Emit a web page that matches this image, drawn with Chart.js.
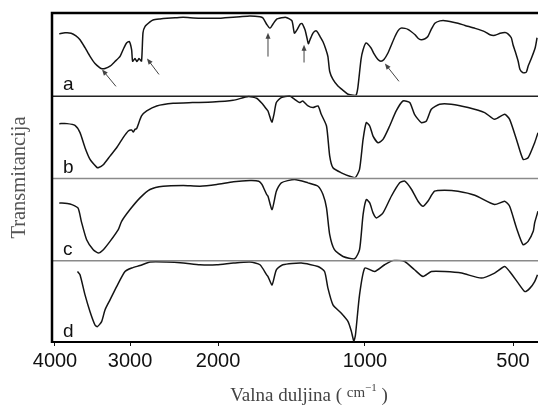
<!DOCTYPE html>
<html><head><meta charset="utf-8">
<script src="https://cdn.jsdelivr.net/npm/chart.js@4/dist/chart.umd.min.js"></script>
<style>html,body{margin:0;padding:0;background:#fff;}canvas{display:block;}</style>
</head><body>
<canvas id="c" width="538" height="408"></canvas>
<script>
// ---- data (wavenumber in cm^-1, transmittance in % of each panel) ----
const waveTicks = [4000, 3000, 2000, 1000, 500];
const panelLabels = ['a', 'b', 'c', 'd'];

const waveA = [3935,3849,3760,3691,3634,3565,3497,3431,3366,3340,3302,3239,3178,3117,3070,3040,3008,2978,2964,2932,2905,2878,2845,2826,2800,2736,2698,2613,2530,2438,2350,2275,2173,2094,2009,1935,1863,1803,1720,1641,1618,1587,1565,1543,1514,1465,1445,1411,1395,1378,1359,1346,1327,1315,1306,1296,1278,1260,1248,1236,1219,1202,1191,1181,1163,1136,1109,1083,1058,1043,1034,1019,1009,995,972,959,941,928,915,898,885,869,857,845,829,818,806,791,780,769,755,745,734,721,704,688,672,647,626,597,570,557,544,531,519,512,504,500,495,488,484,477,470,466,460,451,447];
const transA = [74.7,75.9,75.5,72.3,67.5,57.8,47.3,38.6,33.4,32.2,32.5,35.3,41,47.3,57.8,63.5,65.4,55.4,41.3,44.6,41,44.6,41.6,75.9,83.5,89.2,91.6,92.8,93.6,94.2,94.8,94.2,93.6,93.6,93.6,94.2,94.8,95.5,96.4,95.5,94,85.5,81.6,86.7,92.8,94.6,94.3,90.4,75.5,79.5,86.1,87.3,79.5,69.9,62.7,67.5,75.5,78.3,75.9,71.4,65,55.4,47,28.9,19.3,11.2,6,1.2,0,0,9.6,43.4,55.4,63.5,57.5,50.6,43.4,41.3,43.4,51.4,60.2,71.4,78.3,81.6,81.3,80.1,77.5,73.5,69.3,67.5,68.7,71.4,79.5,87.6,90.4,90.7,89.8,87.6,84.9,81.3,77.1,73.5,72.9,75.3,76.3,74.7,69.9,61.4,53.4,41,31.3,27.3,28.1,35.3,43.4,57.5,69.9];

const waveB = [3935,3820,3705,3634,3565,3497,3410,3390,3320,3239,3158,3080,3020,2977,2955,2932,2910,2845,2778,2653,2460,2250,2050,1863,1732,1667,1626,1590,1580,1558,1550,1536,1519,1484,1427,1394,1362,1341,1308,1278,1248,1229,1199,1181,1163,1118,1067,1046,1026,1009,994,978,963,941,919,891,864,837,811,793,768,750,733,705,668,617,571,545,520,508,492,477,466,452,445];
const transB = [65.5,65.5,63.4,54.5,36.2,22,12.6,11.8,15.9,26,36.2,48.4,56.5,57.7,55.2,58.5,59.4,74.8,80.9,87,90.2,91.1,91.8,93.9,98.4,96.3,90.2,82.9,80.9,69.5,67.4,76.8,91.1,97.2,99.1,95.1,91.1,93,87,85,87,76.8,62.6,26,11.8,5.7,0.9,0,9.8,46.3,66.7,62.6,50.4,42.3,46.3,62.6,80.9,93,91.1,76.8,66.7,68.7,82.9,89,89,85,78.9,70.7,76.8,70.7,46.3,22,24,42.3,54.5];

const waveC = [3935,3776,3663,3616,3543,3454,3388,3323,3239,3138,3098,3000,2865,2736,2575,2347,2173,2012,1860,1720,1650,1626,1590,1580,1550,1519,1484,1394,1308,1248,1219,1199,1181,1155,1109,1050,1026,1009,994,978,963,948,919,884,850,830,804,780,762,745,722,689,647,598,545,520,508,492,477,466,455,452,445];
const transC = [69.1,67.9,63,46.7,24.4,12.2,8.2,12.2,22.3,36.6,46.7,61,75.2,85.4,89.4,90.2,89.4,91.5,94.8,96.3,95.5,91.5,79.3,77.2,61,83.3,93.5,97.6,93.5,89.4,79.3,63,30.5,12.2,4,1.2,12.2,54.9,73.2,69.1,57,50.9,57,77.2,93.5,95.5,85.4,71.1,65,71.1,83.3,84.5,83.3,78.4,67.1,71.1,65,38.7,18.3,22.3,34.5,44.8,58.9];

const waveD = [3670,3634,3565,3497,3431,3400,3345,3302,3239,3158,3058,2977,2865,2736,2535,2347,2173,2012,1860,1720,1641,1590,1580,1550,1519,1473,1350,1248,1210,1191,1163,1118,1083,1066,1054,1046,1026,1001,956,912,870,830,793,762,733,689,636,580,545,520,508,488,473,462,452,446];
const transD = [85.7,81.7,57.3,36.9,20.7,18.7,24.8,39,51.2,67.4,85.7,89.9,93,97.2,97.2,96,93.9,93.9,96,97.2,93.9,81.7,79.6,69.5,87.8,93.9,96,91.8,85.7,65.5,45.1,35,24.8,12.6,1.2,8.5,57.3,89.9,85.7,93.9,100,97.9,87.8,79.6,85.7,85.7,83.8,77.7,83.8,91.8,85.7,71.6,61.3,65.5,73.5,81.7];

// arrows in panel a (data coordinates: [wavenumber, transmittance])
const arrowTail = [[3166,10.8],[2625,25.3],[1580,47],[1333,39.8],[853,16.9]];
const arrowHead = [[3340,31.3],[2774,44.6],[1580,75.9],[1333,61.4],[911,38.6]];

// ---- wavenumber axis: piecewise logarithmic, as in the original instrument chart ----
const axisKnotWave = [4046, 4000, 3000, 2000, 1000, 500, 445];
const axisKnotFrac = [0, 0.00617, 0.1605, 0.3416, 0.6440, 0.9486, 1];
function waveToFrac(w) {
  const n = axisKnotWave.length;
  let i = 0;
  while (i < n - 2 && w < axisKnotWave[i + 1]) i++;
  const la = Math.log(axisKnotWave[i]), lb = Math.log(axisKnotWave[i + 1]);
  const t = (Math.log(w) - la) / (lb - la);
  return axisKnotFrac[i] + t * (axisKnotFrac[i + 1] - axisKnotFrac[i]);
}
function fracToWave(f) {
  const n = axisKnotFrac.length;
  let i = 0;
  while (i < n - 2 && f > axisKnotFrac[i + 1]) i++;
  const t = (f - axisKnotFrac[i]) / (axisKnotFrac[i + 1] - axisKnotFrac[i]);
  const la = Math.log(axisKnotWave[i]), lb = Math.log(axisKnotWave[i + 1]);
  return Math.exp(la + t * (lb - la));
}
class WavenumberScale extends Chart.LinearScale {
  getPixelForValue(v) {
    if (v === null || v === undefined || isNaN(v)) return NaN;
    return this.getPixelForDecimal(waveToFrac(v));
  }
  getValueForPixel(p) { return fracToWave(this.getDecimalForPixel(p)); }
}
WavenumberScale.id = 'wavenumber';
WavenumberScale.defaults = {};
Chart.register(WavenumberScale);

function pts(w, t) { return w.map((x, i) => ({x: x, y: t[i]})); }

const lineStyle = {borderColor: '#141414', borderWidth: 1.5, pointRadius: 0, tension: 0.2, fill: false};

const decor = {
  id: 'decor',
  afterDatasetsDraw(chart) {
    const ctx = chart.ctx, ca = chart.chartArea, xs = chart.scales.x;
    const ys = ['ya', 'yb', 'yc', 'yd'].map(id => chart.scales[id]);
    ctx.save();
    // separators between panels
    ys.slice(0, 3).forEach((s, i) => {
      ctx.strokeStyle = i === 0 ? '#222' : '#8a8a8a';
      ctx.lineWidth = 1.5;
      ctx.beginPath(); ctx.moveTo(ca.left, s.bottom + 1); ctx.lineTo(ca.right, s.bottom + 1); ctx.stroke();
    });
    // frame: left and top
    ctx.strokeStyle = '#000'; ctx.lineWidth = 2.5;
    ctx.beginPath(); ctx.moveTo(ca.left, ca.bottom + 1); ctx.lineTo(ca.left, ca.top); ctx.lineTo(ca.right, ca.top); ctx.stroke();
    // panel letters
    ctx.fillStyle = '#111'; ctx.font = '19px "Liberation Sans"';
    ctx.textAlign = 'left'; ctx.textBaseline = 'alphabetic';
    ys.forEach((s, i) => ctx.fillText(panelLabels[i], ca.left + 11, s.bottom - 5));
    // arrows
    ctx.strokeStyle = '#444'; ctx.fillStyle = '#444'; ctx.lineWidth = 1;
    const ya = chart.scales.ya;
    arrowTail.forEach((tl, i) => {
      const hd = arrowHead[i];
      const x1 = xs.getPixelForValue(tl[0]), y1 = ya.getPixelForValue(tl[1]);
      const x2 = xs.getPixelForValue(hd[0]), y2 = ya.getPixelForValue(hd[1]);
      const a = Math.atan2(y2 - y1, x2 - x1), c = Math.cos(a), s = Math.sin(a);
      ctx.beginPath(); ctx.moveTo(x1, y1); ctx.lineTo(x2 - 5 * c, y2 - 5 * s); ctx.stroke();
      ctx.beginPath();
      ctx.moveTo(x2, y2);
      ctx.lineTo(x2 - 6 * c + 2.5 * s, y2 - 6 * s - 2.5 * c);
      ctx.lineTo(x2 - 6 * c - 2.5 * s, y2 - 6 * s + 2.5 * c);
      ctx.closePath(); ctx.fill();
    });
    ctx.restore();
  },
  afterDraw(chart) {
    const ctx = chart.ctx, ca = chart.chartArea;
    ctx.save();
    // y title
    ctx.save();
    ctx.translate(20, (ca.top + ca.bottom) / 2);
    ctx.rotate(-Math.PI / 2);
    ctx.font = '20.5px "Liberation Serif"'; ctx.fillStyle = '#555';
    ctx.textAlign = 'center'; ctx.textBaseline = 'middle';
    ctx.fillText('Transmitancija', 0, 0);
    ctx.restore();
    // x title with raised unit
    const parts = [
      {t: 'Valna duljina ( ', size: 19, rise: 0},
      {t: 'cm', size: 15, rise: 4},
      {t: '−1', size: 11, rise: 10},
      {t: ' )', size: 19, rise: 0}
    ];
    ctx.fillStyle = '#444'; ctx.textAlign = 'left'; ctx.textBaseline = 'alphabetic';
    let total = 0;
    parts.forEach(p => { ctx.font = p.size + 'px "Liberation Serif"'; p.w = ctx.measureText(p.t).width; total += p.w; });
    let x = 309 - total / 2;
    const base = 401;
    parts.forEach(p => { ctx.font = p.size + 'px "Liberation Serif"'; ctx.fillText(p.t, x, base - p.rise); x += p.w; });
    ctx.restore();
  }
};

function yPanel(weight) {
  return {type: 'linear', position: 'left', stack: 'spectra', stackWeight: 1, weight: weight, min: 0, max: 100, display: false};
}

new Chart(document.getElementById('c'), {
  type: 'line',
  data: {
    datasets: [
      Object.assign({label: 'a', data: pts(waveA, transA), yAxisID: 'ya'}, lineStyle),
      Object.assign({label: 'b', data: pts(waveB, transB), yAxisID: 'yb'}, lineStyle),
      Object.assign({label: 'c', data: pts(waveC, transC), yAxisID: 'yc'}, lineStyle),
      Object.assign({label: 'd', data: pts(waveD, transD), yAxisID: 'yd'}, lineStyle)
    ]
  },
  options: {
    responsive: false, animation: false, devicePixelRatio: 1,
    layout: {padding: {left: 52, top: 13, right: 0, bottom: 32}},
    plugins: {legend: {display: false}, tooltip: {enabled: false}, title: {display: false}},
    scales: {
      x: {
        type: 'wavenumber', position: 'bottom', min: 445, max: 4046,
        afterBuildTicks: s => { s.ticks = waveTicks.map(v => ({value: v})); },
        ticks: {autoSkip: false, maxRotation: 0, minRotation: 0, padding: 3, color: '#111',
                font: {family: 'Liberation Sans', size: 20}, callback: v => String(v)},
        grid: {display: true, drawOnChartArea: false, drawTicks: true, tickLength: 4, color: '#111', lineWidth: 1},
        border: {display: true, color: '#000', width: 2},
        title: {display: false}
      },
      ya: yPanel(4),
      yb: yPanel(3),
      yc: yPanel(2),
      yd: yPanel(1)
    }
  },
  plugins: [decor]
});
</script>
</body></html>
